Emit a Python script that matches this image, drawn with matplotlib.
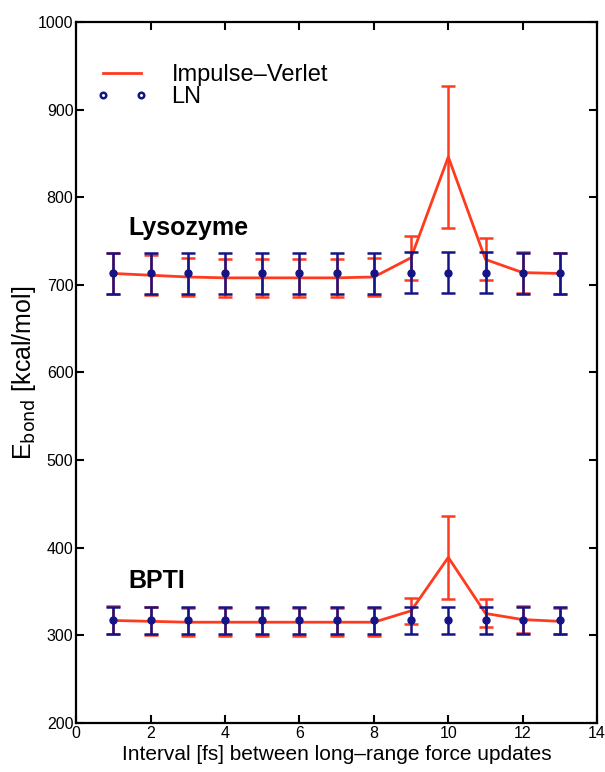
import numpy as np
import matplotlib
matplotlib.use('Agg')
import matplotlib.pyplot as plt
from matplotlib.lines import Line2D

plt.rcParams['font.family'] = ['Liberation Sans', 'DejaVu Sans']

intervals = [1, 2, 3, 4, 5, 6, 7, 8, 9, 10, 11, 12, 13]

# Lysozyme
lys_iv = [713, 711, 709, 708, 708, 708, 708, 709, 731, 846, 729, 714, 713]
lys_iv_err = [23, 23, 22, 22, 22, 22, 22, 22, 25, 81, 24, 23, 23]
lys_ln = [713, 713, 713, 713, 713, 713, 713, 713, 714, 714, 714, 713, 713]
lys_ln_err = [23, 23, 23, 23, 23, 23, 23, 23, 23, 23, 23, 23, 23]

# BPTI
bpti_iv = [317, 316, 315, 315, 315, 315, 315, 315, 328, 389, 325, 318, 316]
bpti_iv_err = [16, 16, 16, 16, 16, 16, 16, 16, 15, 47, 16, 15, 15]
bpti_ln = [317, 317, 317, 317, 317, 317, 317, 317, 317, 317, 317, 317, 317]
bpti_ln_err = [15, 15, 15, 15, 15, 15, 15, 15, 15, 15, 15, 15, 15]

iv_color = '#ff3b1f'
ln_color = '#141487'

fig = plt.figure(figsize=(6.05, 7.72), dpi=100)
ax = fig.add_axes([0.126, 0.0635, 0.861, 0.908])

for y, e in [(lys_iv, lys_iv_err), (bpti_iv, bpti_iv_err)]:
    ax.errorbar(intervals, y, yerr=e, color=iv_color, lw=2, elinewidth=1.8,
                capsize=5, capthick=1.8, zorder=2)
for y, e in [(lys_ln, lys_ln_err), (bpti_ln, bpti_ln_err)]:
    ax.errorbar(intervals, y, yerr=e, color=ln_color, ls='none', marker='o', ms=5,
                elinewidth=1.8, capsize=5, capthick=1.8, zorder=3)

ax.text(1.4, 765, 'Lysozyme', fontsize=18, fontweight='bold', va='center')
ax.text(1.4, 362, 'BPTI', fontsize=18, fontweight='bold', va='center')

ax.set_xlim(0, 14)
ax.set_ylim(200, 1000)
ax.set_xticks(range(0, 15, 2))
ax.set_yticks(range(200, 1001, 100))
ax.tick_params(direction='in', length=6, width=1.5, top=True, right=True,
               labelsize=11.5, pad=2, labeltop=False, labelright=False)
for s in ax.spines.values():
    s.set_linewidth(1.6)

ax.set_xlabel('Interval [fs] between long\u2013range force updates', fontsize=15, labelpad=3)
ax.set_ylabel('E$_{\\rm bond}$ [kcal/mol]', fontsize=18, labelpad=0)

handles = [Line2D([], [], color=iv_color, lw=2),
           Line2D([], [], color=ln_color, ls='none', marker='o', ms=4,
                  mfc='none', mew=1.8)]
ax.legend(handles, ['Impulse\u2013Verlet', 'LN'], loc='upper left', frameon=False,
          fontsize=17, numpoints=2, handlelength=2.2, labelspacing=0.0,
          handletextpad=1.0, bbox_to_anchor=(-0.003, 0.97))

fig.savefig('out.png', dpi=100)
